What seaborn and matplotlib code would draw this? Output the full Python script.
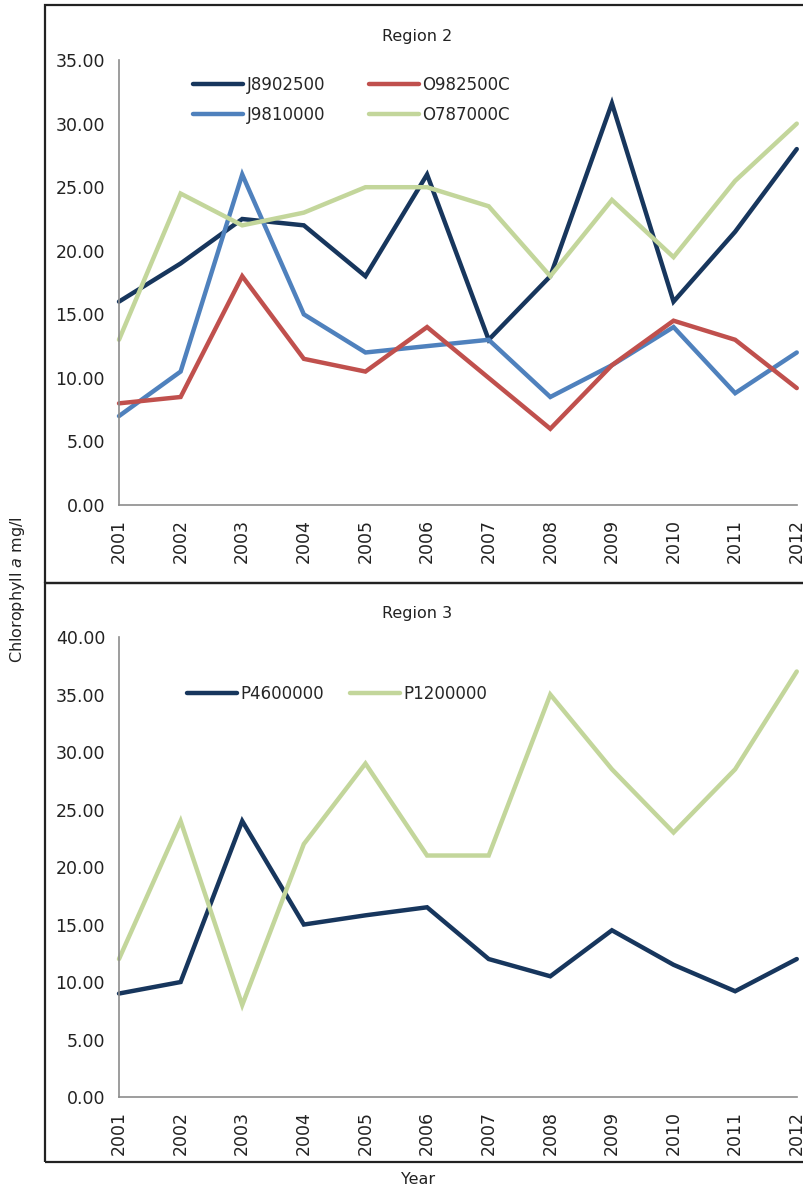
import numpy as np, pandas as pd
import matplotlib
matplotlib.use("Agg")
import matplotlib.pyplot as plt
import seaborn as sns
from matplotlib.patches import Rectangle
from matplotlib.ticker import FormatStrFormatter

years = list(range(2001, 2013))

# Region 2
j8902500 = [16.0, 19.0, 22.5, 22.0, 18.0, 26.0, 13.0, 18.0, 31.6, 16.0, 21.5, 28.0]
o982500c = [8.0, 8.5, 18.0, 11.5, 10.5, 14.0, 10.0, 6.0, 11.0, 14.5, 13.0, 9.2]
j9810000 = [7.0, 10.5, 26.0, 15.0, 12.0, 12.5, 13.0, 8.5, 11.0, 14.0, 8.8, 12.0]
o787000c = [13.0, 24.5, 22.0, 23.0, 25.0, 25.0, 23.5, 18.0, 24.0, 19.5, 25.5, 30.0]

# Region 3
p4600000 = [9.0, 10.0, 24.0, 15.0, 15.8, 16.5, 12.0, 10.5, 14.5, 11.5, 9.2, 12.0]
p1200000 = [12.0, 24.0, 8.0, 22.0, 29.0, 21.0, 21.0, 35.0, 28.5, 23.0, 28.5, 37.0]

navy, red, blue, green = "#17365D", "#C0504D", "#4F81BD", "#C3D69B"


def long_df(series):
    rows = []
    for name, vals in series.items():
        for y, v in zip(years, vals):
            rows.append({"year": y, "value": v, "site": name})
    return pd.DataFrame(rows)


df2 = long_df({"J8902500": j8902500, "J9810000": j9810000,
               "O982500C": o982500c, "O787000C": o787000c})
df3 = long_df({"P4600000": p4600000, "P1200000": p1200000})

sns.set_style("white")
plt.rcParams["font.family"] = ["DejaVu Sans"]

fig = plt.figure(figsize=(8.04, 11.94), dpi=100)
ax2 = fig.add_axes([0.148, 0.577, 0.843, 0.3727])
ax3 = fig.add_axes([0.148, 0.0812, 0.843, 0.3853])


def style(ax, ymax, title):
    ax.set_xlim(2001, 2012)
    ax.set_ylim(0, ymax)
    ax.set_xticks(years)
    ax.set_xticklabels([str(y) for y in years], rotation=90)
    ax.set_yticks(np.arange(0, ymax + 0.1, 5))
    ax.yaxis.set_major_formatter(FormatStrFormatter("%.2f"))
    for s in ["top", "right"]:
        ax.spines[s].set_visible(False)
    for s in ["left", "bottom"]:
        ax.spines[s].set_color("#8c8c8c")
        ax.spines[s].set_linewidth(1.2)
    ax.tick_params(axis="both", direction="out", length=5, width=1.2,
                   color="#8c8c8c", labelsize=12.5, labelcolor="#222222", pad=5)
    ax.set_xlabel("")
    ax.set_ylabel("")
    ax.set_title(title, fontsize=11.5, color="#222222", pad=14)
    for line in ax.get_lines():
        line.set_clip_on(False)
        line.set_solid_joinstyle("miter")


sns.lineplot(data=df2, x="year", y="value", hue="site", ax=ax2, linewidth=3.2,
             palette={"J8902500": navy, "J9810000": blue, "O982500C": red, "O787000C": green},
             legend=False)
style(ax2, 35, "Region 2")
ax2.title.set_position((0.44, 1.0))
h2 = [plt.Line2D([], [], color=c, lw=3.2) for c in [navy, blue, red, green]]
ax2.legend(h2, ["J8902500", "J9810000", "O982500C", "O787000C"], ncol=2,
           loc="upper left", bbox_to_anchor=(0.1, 0.98), frameon=False,
           fontsize=12, handlelength=3.0, handletextpad=0.2, columnspacing=2.6,
           labelspacing=0.75, borderaxespad=0)

sns.lineplot(data=df3, x="year", y="value", hue="site", ax=ax3, linewidth=3.2,
             palette={"P4600000": navy, "P1200000": green}, legend=False)
style(ax3, 40, "Region 3")
ax3.title.set_position((0.44, 1.0))
h3 = [plt.Line2D([], [], color=c, lw=3.2) for c in [navy, green]]
ax3.legend(h3, ["P4600000", "P1200000"], ncol=2, loc="upper left",
           bbox_to_anchor=(0.09, 0.91), frameon=False, fontsize=12,
           handlelength=3.0, handletextpad=0.2, columnspacing=1.6, borderaxespad=0)

# panel frames
W, H = 804, 1194
for y0, y1 in [(5, 583), (583, 1162)]:
    fig.patches.append(Rectangle((45 / W, 1 - y1 / H), 1.0, (y1 - y0) / H,
                                 transform=fig.transFigure, fill=False,
                                 edgecolor="#222222", linewidth=1.6))

fig.text(18 / W, 1 - 590 / H, "Chlorophyll $\\it{a}$ mg/l", rotation=90,
         ha="center", va="center", fontsize=11.5, color="#222222")
fig.text(418 / W, 1 - 1180 / H, "Year", ha="center", va="center",
         fontsize=11.5, color="#222222")

fig.savefig("out.png", dpi=100)
